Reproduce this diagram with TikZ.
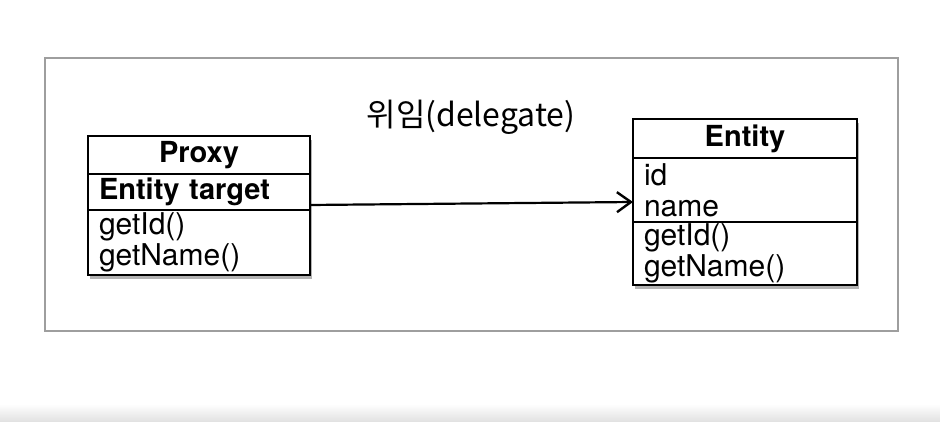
\documentclass[tikz,border=0pt]{standalone}
\usepackage{fontspec}
\setmainfont{TeX Gyre Heros}
\newfontfamily\kofont{Noto Sans CJK KR}
\usepackage{tikz}
\usetikzlibrary{positioning}
\usetikzlibrary{shadows}
\usetikzlibrary{arrows.meta}
\usetikzlibrary{fit}
\usetikzlibrary{backgrounds}
\definecolor{framegray}{rgb}{0.62,0.62,0.62}

\begin{document}
\begin{tikzpicture}[x=1pt,y=-1pt,
  line width=2.6pt,
  font=\fontsize{30}{31}\selectfont,
  classname/.style={rectangle,draw,fill=white,outer sep=0pt,inner sep=0pt,
    anchor=north west,font=\fontsize{29}{31}\selectfont\bfseries},
  compartment/.style={rectangle,draw,fill=white,outer sep=0pt,align=left,
    inner xsep=11pt,inner ysep=0pt,anchor=north},
  classshadow/.style={fill=white,inner sep=0pt,
    drop shadow={shadow xshift=2pt,shadow yshift=-4pt,opacity=0.6}}]
  \useasboundingbox (0,0) rectangle (940,422);
  \shade[top color=white,bottom color=black!12] (0,404) rectangle (940,422);
  \draw[framegray,line width=1.5pt] (45,58) rectangle (898,331);

  % Proxy
  \node[classname,minimum width=222pt,minimum height=38pt] (proxy) at (88,136) {Proxy};
  \node[compartment,below=0pt of proxy,text width=200pt,minimum height=36pt,
    font=\fontsize{29}{31}\selectfont\bfseries] (proxyTarget) {Entity target};
  \node[compartment,below=0pt of proxyTarget,text width=200pt,minimum height=65pt] (proxyOps)
    {getId()\\getName()};

  % Entity
  \node[classname,minimum width=224pt,minimum height=39pt] (entity) at (633,119) {Entity};
  \node[compartment,below=0pt of entity,text width=202pt,minimum height=64pt] (entityAttrs)
    {id\\name};
  \node[compartment,below=0pt of entityAttrs,text width=202pt,minimum height=63pt] (entityOps)
    {getId()\\getName()};

  \begin{scope}[on background layer]
    \node[classshadow,fit=(proxy)(proxyOps)] {};
    \node[classshadow,fit=(entity)(entityOps)] {};
  \end{scope}

  \node[font=\kofont\fontsize{32}{34}\selectfont] (delegate) at (471,117) {위임(delegate)};

  \draw[-{Straight Barb[length=14pt,width=20pt,line width=2.4pt]},line width=2.2pt]
    ([yshift=5pt]proxyTarget.south east) -- ([yshift=-12pt]entityAttrs.west);

\end{tikzpicture}
\end{document}
